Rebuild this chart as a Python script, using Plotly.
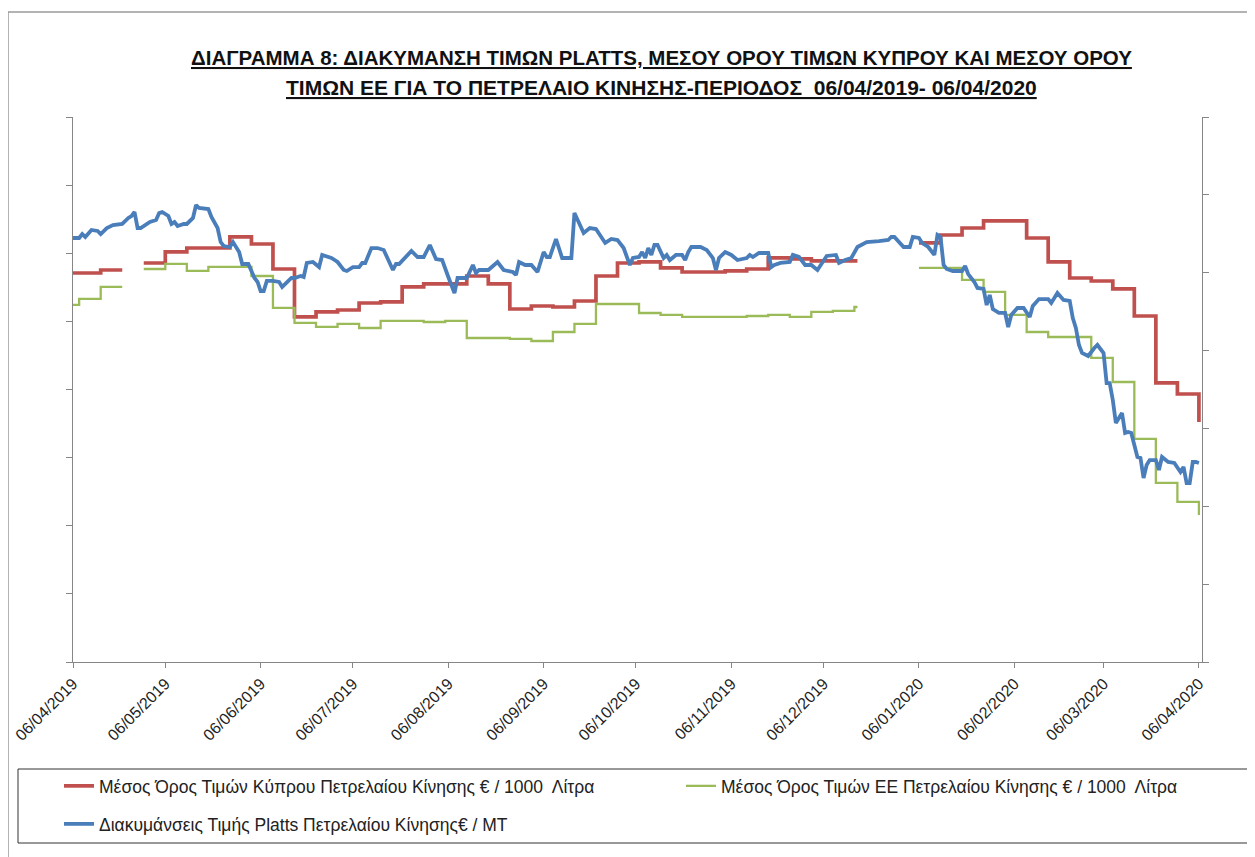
import plotly.graph_objects as go

# ---------------- data ----------------
tick_dates = ["2019-04-06", "2019-05-06", "2019-06-06", "2019-07-06", "2019-08-06", "2019-09-06",
              "2019-10-06", "2019-11-06", "2019-12-06", "2020-01-06", "2020-02-06", "2020-03-06",
              "2020-04-06"]
tick_labels = ["06/04/2019", "06/05/2019", "06/06/2019", "06/07/2019", "06/08/2019", "06/09/2019",
               "06/10/2019", "06/11/2019", "06/12/2019", "06/01/2020", "06/02/2020", "06/03/2020",
               "06/04/2020"]

# Cyprus average price (weekly steps, None = no data)
cy_dates = ["2019-04-06", "2019-04-15", "2019-04-22", "2019-04-23", "2019-04-29", "2019-05-06",
            "2019-05-13", "2019-05-27", "2019-06-03", "2019-06-10", "2019-06-17", "2019-06-24",
            "2019-07-01", "2019-07-08", "2019-07-15", "2019-07-22", "2019-07-29", "2019-08-12",
            "2019-08-19", "2019-08-26", "2019-09-02", "2019-09-09", "2019-09-16", "2019-09-23",
            "2019-09-30", "2019-10-07", "2019-10-14", "2019-10-21", "2019-11-04", "2019-11-11",
            "2019-11-18", "2019-11-25", "2019-12-02", "2019-12-17", "2019-12-18", "2020-01-06",
            "2020-01-13", "2020-01-20", "2020-01-27", "2020-02-10", "2020-02-17", "2020-02-24",
            "2020-03-02", "2020-03-09", "2020-03-16", "2020-03-23", "2020-03-30", "2020-04-06"]
cy_values = [571.0, 575.4, 575.4, None, 585.7, 601.9,
             607.7, 623.9, 613.6, 576.9, 506.5, 513.8,
             516.7, 527.0, 528.5, 550.5, 554.9, 566.6,
             554.9, 518.2, 522.6, 521.1, 529.9, 566.6,
             585.7, 587.2, 578.4, 572.5, 574.0, 576.9,
             593.1, 591.6, 588.7, 588.7, None, 615.1,
             626.8, 637.1, 647.4, 622.4, 587.2, 563.7,
             559.3, 547.6, 507.9, 409.6, 393.4, 352.3]

# EU average price (weekly steps, None = no data)
eu_dates = ["2019-04-06", "2019-04-08", "2019-04-15", "2019-04-22", "2019-04-23", "2019-04-29",
            "2019-05-06", "2019-05-13", "2019-05-20", "2019-06-03", "2019-06-10", "2019-06-17",
            "2019-06-24", "2019-07-01", "2019-07-08", "2019-07-15", "2019-07-29", "2019-08-05",
            "2019-08-12", "2019-08-26", "2019-09-02", "2019-09-09", "2019-09-16", "2019-09-23",
            "2019-10-07", "2019-10-14", "2019-10-21", "2019-11-11", "2019-11-18", "2019-11-25",
            "2019-12-02", "2019-12-09", "2019-12-16", "2019-12-17", "2019-12-18", "2020-01-06",
            "2020-01-20", "2020-01-27", "2020-02-03", "2020-02-10", "2020-02-17", "2020-03-02",
            "2020-03-09", "2020-03-16", "2020-03-23", "2020-03-30", "2020-04-06"]
eu_values = [524.1, 532.9, 550.5, 550.5, None, 576.9,
             584.3, 574.0, 579.9, 566.6, 519.7, 497.7,
             491.8, 496.2, 490.3, 500.6, 499.1, 500.6,
             475.6, 474.2, 471.2, 484.4, 496.2, 525.5,
             512.3, 509.4, 506.5, 507.9, 509.4, 506.5,
             513.8, 515.3, 521.1, 521.1, None, 578.4,
             560.8, 543.2, 509.4, 484.4, 477.1, 446.3,
             411.0, 327.4, 262.8, 234.9, 215.8]

# Platts diesel price (EUR / MT)
platts_dates = [
    "2019-04-06", "2019-04-08", "2019-04-09", "2019-04-10", "2019-04-12", "2019-04-14", "2019-04-15",
    "2019-04-17", "2019-04-19", "2019-04-22", "2019-04-24", "2019-04-25", "2019-04-26", "2019-04-27",
    "2019-04-28", "2019-05-01", "2019-05-03", "2019-05-04", "2019-05-05", "2019-05-07", "2019-05-08",
    "2019-05-09", "2019-05-10", "2019-05-12", "2019-05-13", "2019-05-15", "2019-05-16", "2019-05-17",
    "2019-05-20", "2019-05-21", "2019-05-23", "2019-05-24", "2019-05-25", "2019-05-27", "2019-05-28",
    "2019-05-30", "2019-05-31", "2019-06-02", "2019-06-04", "2019-06-05", "2019-06-06", "2019-06-07",
    "2019-06-08", "2019-06-10", "2019-06-12", "2019-06-13", "2019-06-16", "2019-06-17", "2019-06-19",
    "2019-06-20", "2019-06-21", "2019-06-23", "2019-06-25", "2019-06-26", "2019-06-29", "2019-07-01",
    "2019-07-03", "2019-07-04", "2019-07-06", "2019-07-08", "2019-07-09", "2019-07-10", "2019-07-12",
    "2019-07-14", "2019-07-16", "2019-07-17", "2019-07-19", "2019-07-20", "2019-07-21", "2019-07-25",
    "2019-07-27", "2019-07-29", "2019-07-31", "2019-08-02", "2019-08-04", "2019-08-06", "2019-08-08",
    "2019-08-09", "2019-08-12", "2019-08-14", "2019-08-15", "2019-08-16", "2019-08-19", "2019-08-22",
    "2019-08-24", "2019-08-27", "2019-08-28", "2019-08-29", "2019-08-31", "2019-09-02", "2019-09-04",
    "2019-09-06", "2019-09-07", "2019-09-08", "2019-09-10", "2019-09-12", "2019-09-15", "2019-09-16",
    "2019-09-19", "2019-09-21", "2019-09-23", "2019-09-26", "2019-09-28", "2019-09-30", "2019-10-02",
    "2019-10-04", "2019-10-05", "2019-10-07", "2019-10-08", "2019-10-09", "2019-10-10", "2019-10-11",
    "2019-10-12", "2019-10-13", "2019-10-15", "2019-10-16", "2019-10-17", "2019-10-19", "2019-10-21",
    "2019-10-22", "2019-10-23", "2019-10-24", "2019-10-27", "2019-10-29", "2019-10-31", "2019-11-01",
    "2019-11-02", "2019-11-04", "2019-11-06", "2019-11-08", "2019-11-11", "2019-11-12", "2019-11-13",
    "2019-11-15", "2019-11-18", "2019-11-19", "2019-11-20", "2019-11-22", "2019-11-25", "2019-11-26",
    "2019-11-28", "2019-11-30", "2019-12-02", "2019-12-04", "2019-12-06", "2019-12-07", "2019-12-10",
    "2019-12-11", "2019-12-13", "2019-12-15", "2019-12-17", "2019-12-19", "2019-12-20", "2019-12-24",
    "2019-12-27", "2019-12-28", "2019-12-29", "2020-01-01", "2020-01-03", "2020-01-04", "2020-01-06",
    "2020-01-07", "2020-01-09", "2020-01-11", "2020-01-12", "2020-01-13", "2020-01-14", "2020-01-15",
    "2020-01-17", "2020-01-20", "2020-01-21", "2020-01-22", "2020-01-24", "2020-01-25", "2020-01-27",
    "2020-01-28", "2020-01-29", "2020-01-30", "2020-02-01", "2020-02-03", "2020-02-04", "2020-02-05",
    "2020-02-07", "2020-02-09", "2020-02-11", "2020-02-12", "2020-02-14", "2020-02-17", "2020-02-18",
    "2020-02-20", "2020-02-21", "2020-02-22", "2020-02-24", "2020-02-25", "2020-02-26", "2020-02-27",
    "2020-02-28", "2020-03-01", "2020-03-03", "2020-03-04", "2020-03-06", "2020-03-07", "2020-03-08",
    "2020-03-09", "2020-03-10", "2020-03-12", "2020-03-13", "2020-03-14", "2020-03-15", "2020-03-17",
    "2020-03-18", "2020-03-19", "2020-03-20", "2020-03-21", "2020-03-23", "2020-03-24", "2020-03-25",
    "2020-03-27", "2020-03-29", "2020-03-31", "2020-04-01", "2020-04-02", "2020-04-03", "2020-04-04",
    "2020-04-05", "2020-04-06"]
platts_values = [
    544.6, 544.6, 549.7, 545.9, 554.9, 553.6, 549.7,
    557.4, 561.3, 562.6, 570.3, 572.8, 578.0, 557.4,
    557.4, 565.1, 567.7, 576.7, 578.0, 572.8, 562.6,
    565.1, 560.0, 562.6, 562.6, 570.3, 587.0, 583.1,
    581.8, 571.6, 557.4, 539.4, 534.3, 533.0, 539.4,
    526.6, 511.2, 511.2, 493.2, 488.1, 476.5, 476.5,
    489.4, 489.4, 488.1, 481.7, 493.2, 493.2, 495.8,
    494.5, 512.5, 513.8, 507.3, 522.8, 518.9, 513.8,
    503.5, 502.2, 507.3, 507.3, 512.5, 512.5, 531.7,
    531.7, 529.2, 520.2, 503.5, 511.2, 511.2, 527.9,
    520.2, 520.2, 535.6, 517.6, 516.3, 494.5, 473.9,
    493.2, 493.2, 509.9, 499.6, 503.5, 503.5, 513.8,
    503.5, 500.9, 497.1, 513.8, 509.9, 509.9, 500.9,
    526.6, 520.2, 520.2, 543.3, 518.9, 518.9, 576.7,
    551.0, 557.4, 556.1, 538.2, 543.3, 542.0, 531.7,
    509.9, 518.9, 520.2, 526.6, 518.9, 531.7, 522.8,
    535.6, 535.6, 518.9, 522.8, 516.3, 522.8, 522.8,
    516.3, 526.6, 533.0, 533.0, 529.2, 518.9, 503.5,
    518.9, 526.6, 522.8, 516.3, 518.9, 522.8, 520.2,
    525.3, 525.3, 507.3, 509.9, 512.5, 513.8, 522.8,
    520.2, 509.9, 509.9, 503.5, 516.3, 521.5, 522.8,
    512.5, 516.3, 518.9, 533.0, 538.2, 539.4, 540.7,
    542.0, 545.9, 545.9, 533.0, 533.0, 545.9, 544.6,
    538.2, 533.0, 522.8, 548.4, 545.9, 509.9, 504.8,
    502.2, 502.2, 508.6, 498.3, 488.1, 480.4, 479.1,
    458.5, 471.4, 453.4, 448.3, 448.3, 430.3, 445.7,
    454.7, 454.7, 443.1, 457.2, 466.2, 466.2, 461.1,
    473.9, 470.1, 465.0, 463.7, 441.8, 429.0, 407.2,
    396.9, 393.0, 403.3, 407.2, 396.9, 358.3, 358.3,
    336.5, 307.0, 319.8, 294.1, 295.4, 294.1, 263.3,
    262.0, 236.3, 253.0, 259.4, 259.4, 246.6, 263.3,
    256.9, 255.6, 244.0, 250.5, 229.9, 229.9, 256.9,
    256.9, 255.6]

name_cy = "Μέσος Όρος Τιμών Κύπρου Πετρελαίου Κίνησης € / 1000  Λίτρα"
name_eu = "Μέσος Όρος Τιμών ΕΕ Πετρελαίου Κίνησης € / 1000  Λίτρα"
name_platts = "Διακυμάνσεις Τιμής Platts Πετρελαίου Κίνησης€ / MT"
title_line1 = "ΔΙΑΓΡΑΜΜΑ 8: ΔΙΑΚΥΜΑΝΣΗ ΤΙΜΩΝ PLATTS, ΜΕΣΟΥ ΟΡΟΥ ΤΙΜΩΝ ΚΥΠΡΟΥ ΚΑΙ ΜΕΣΟΥ ΟΡΟΥ"
title_line2 = "ΤΙΜΩΝ ΕΕ ΓΙΑ ΤΟ ΠΕΤΡΕΛΑΙΟ ΚΙΝΗΣΗΣ-ΠΕΡΙΟΔΟΣ  06/04/2019- 06/04/2020"

# ---------------- figure ----------------
FONT = "Liberation Sans"
OFF = 8                       # page body margin of the html page
W, H = 1255 - OFF, 857 - OFF
PL, PR, PT, PB = 73, 1202, 117, 662   # plot area on the page
ML, MT = PL - OFF, PT - OFF
MR, MB = (W + OFF) - PR, (H + OFF) - PB
PW, PH = PR - PL, PB - PT


def px_x(px):
    return (px - PL) / PW


def px_y(py):
    return (PB - py) / PH


fig = go.Figure()
fig.add_trace(go.Scatter(x=cy_dates, y=cy_values, mode="lines", name=name_cy,
                         line=dict(color="#C0504D", width=3.7, shape="hv"),
                         connectgaps=False, yaxis="y", legend="legend"))
fig.add_trace(go.Scatter(x=eu_dates, y=eu_values, mode="lines", name=name_eu,
                         line=dict(color="#9BBB59", width=2.3, shape="hv"),
                         connectgaps=False, yaxis="y", legend="legend2"))
fig.add_trace(go.Scatter(x=platts_dates, y=platts_values, mode="lines", name=name_platts,
                         line=dict(color="#4A7EBB", width=3.8),
                         yaxis="y2", legend="legend3"))

axis_line = "#868686"
legend_common = dict(orientation="h", xanchor="left", yanchor="middle",
                     font=dict(size=17.5, color="#222222"),
                     bgcolor="rgba(0,0,0,0)", borderwidth=0, itemwidth=30)
fig.update_layout(
    width=W, height=H,
    margin=dict(l=ML, r=MR, t=MT, b=MB, pad=0, autoexpand=False),
    paper_bgcolor="white", plot_bgcolor="white",
    font=dict(family=FONT, color="#222222"),
    xaxis=dict(type="date", range=["2019-04-06", "2020-04-07"], automargin=False,
               tickmode="array", tickvals=tick_dates, ticktext=tick_labels,
               tickangle=-45, tickfont=dict(size=16, color="#222222"),
               ticks="outside", ticklen=5, tickcolor=axis_line,
               showline=True, linecolor=axis_line, linewidth=1.3,
               showgrid=False, zeroline=False),
    yaxis=dict(range=[0, 800], dtick=100, showticklabels=False, automargin=False,
               ticks="outside", ticklen=6, tickcolor=axis_line,
               showline=True, linecolor=axis_line, linewidth=1.3,
               showgrid=False, zeroline=False),
    yaxis2=dict(range=[0, 700], dtick=100, showticklabels=False, overlaying="y", side="right",
                automargin=False,
                ticks="outside", ticklen=6, tickcolor=axis_line,
                showline=True, linecolor=axis_line, linewidth=1.3,
                showgrid=False, zeroline=False),
    legend=dict(x=px_x(59), y=px_y(786), **legend_common),
    legend2=dict(x=px_x(681), y=px_y(786), **legend_common),
    legend3=dict(x=px_x(59), y=px_y(824), **legend_common),
    showlegend=True,
)

# title (two underlined bold lines)
for txt, py, fs in ((title_line1, 57, 20.5), (title_line2, 87, 21.0)):
    fig.add_annotation(text=txt, xref="paper", yref="paper", x=px_x(661), y=px_y(py),
                       xanchor="center", yanchor="middle", showarrow=False,
                       font=dict(family=FONT, size=fs, color="#111111", weight="bold",
                                 lineposition="under"))

# legend box
fig.add_shape(type="rect", xref="paper", yref="paper",
              x0=px_x(18), x1=px_x(1270), y0=px_y(843), y1=px_y(769),
              line=dict(color="#333333", width=1))
# outer chart frame
fig.add_shape(type="path", xref="paper", yref="paper",
              path=f"M {px_x(8)},{px_y(880)} L {px_x(8)},{px_y(12)} L {px_x(1270)},{px_y(12)}",
              line=dict(color="#9a9a9a", width=1.5))

fig.write_html("out.html")
